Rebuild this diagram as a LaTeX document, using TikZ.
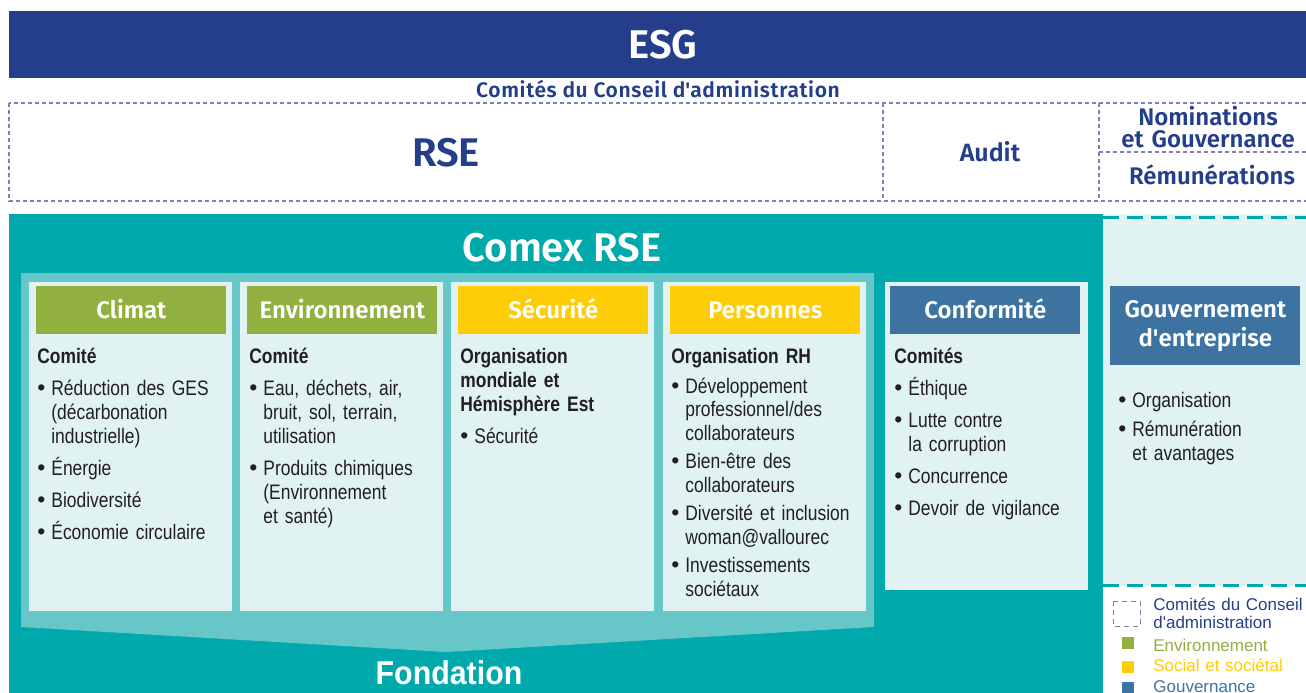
\documentclass[tikz,border=0pt]{standalone}
\usepackage{fontspec}
\setmainfont{Liberation Sans}
\newfontfamily\titre{Fira Sans}[BoldFont={Fira Sans SemiBold}]
\newfontfamily\etroit{Liberation Sans}[FakeStretch=0.83,WordSpace=0.8]
\newfontfamily\demi{Liberation Sans}[FakeStretch=0.92]

\definecolor{bleuesg}{RGB}{37,62,140}
\definecolor{lavande}{RGB}{125,127,184}
\definecolor{sarcelle}{RGB}{0,169,172}
\definecolor{sarcelleclair}{RGB}{102,198,200}
\definecolor{fondclair}{RGB}{224,242,242}
\definecolor{vertenv}{RGB}{145,176,64}
\definecolor{jaunesoc}{RGB}{255,204,8}
\definecolor{bleugouv}{RGB}{61,115,160}
\definecolor{encre}{RGB}{35,31,32}

\newcommand{\puce}{\makebox[14pt][l]{\rmfamily\fontsize{23}{0}\selectfont\textbullet}}
\newcommand{\suite}{\hspace*{14pt}}

\tikzset{every picture/.style={line width=0.75pt}}
\tikzset{
  grand/.style={font=\titre\bfseries\fontsize{40}{40}\selectfont,inner sep=0pt,anchor=base},
  comite/.style={font=\titre\bfseries\fontsize{24}{22}\selectfont,text=bleuesg,inner sep=0pt,anchor=base,align=center},
  pointille/.style={draw=lavande,line width=1.2pt,dash pattern=on 4pt off 3pt},
  tirets/.style={draw=sarcelle,line width=3pt,dash pattern=on 16pt off 8pt},
  carte/.style={fill=fondclair,inner sep=0pt,anchor=north west},
  entete/.style={text=white,font=\titre\bfseries\fontsize{24}{29}\selectfont,align=center,anchor=north west,inner sep=0pt,minimum width=190pt,minimum height=48pt},
  uneligne/.style={text height=17pt,text depth=0pt},
  corps/.style={anchor=base west,inner sep=0pt,text width=195pt,align=left,text=encre,font=\etroit\fontsize{21}{24}\selectfont},
  legende/.style={anchor=base west,inner sep=0pt,text width=200pt,align=left,font=\fontsize{17}{18}\selectfont},
  carre/.style={inner sep=0pt,minimum size=12pt,anchor=north west},
}

\begin{document}
\begin{tikzpicture}[x=1pt,y=-1pt]
\useasboundingbox (0,0) rectangle (1306,693);
\begin{scope}
\clip (0,0) rectangle (1306,693);
% ESG
\fill[bleuesg] (9,11) rectangle (1310,78);
\node[grand,text=white] (esg) at (663,59) {ESG};
\node[font=\titre\bfseries\fontsize{21}{21}\selectfont\addfontfeature{LetterSpace=3},text=bleuesg,anchor=base,inner sep=0pt] (conseil) at (658,97) {Comités du Conseil d\textquotesingle administration};
% comites (pointilles)
\draw[pointille] (9,103) rectangle (1312,201);
\draw[pointille] (883,103) -- (883,201);
\draw[pointille] (1099,103) -- (1099,201);
\draw[pointille] (1099,152) -- (1312,152);
\node[grand,text=bleuesg] (rse) at (446,166) {RSE};
\node[comite,font=\titre\bfseries\fontsize{25}{22}\selectfont] (audit) at (990,161) {Audit};
\node[comite,text width=200pt] (nominations) at (1208,125) {Nominations\\et Gouvernance};
\node[comite] (remunerations) at (1212,184) {Rémunérations};
% fonds
\fill[sarcelle] (9,214) rectangle (1103,700);
\fill[fondclair] (1103,214) rectangle (1310,585);
\draw[tirets] (1103,217) -- (1310,217);
\draw[tirets] (1103,585) -- (1310,585);
\node[grand,text=white] (comex) at (562,261) {Comex RSE};
\fill[sarcelleclair] (21,273) -- (874,273) -- (874,627) -- (446,652) -- (21,627) -- cycle; %fleche
\node[anchor=base,inner sep=0pt,text=white,font=\demi\bfseries\fontsize{33}{33}\selectfont] (fondation) at (449,684) {Fondation};
% colonnes
\foreach \nom/\x/\coul/\tete in {climat/29/vertenv/Climat,environnement/240/vertenv/Environnement,securite/451/jaunesoc/Sécurité,personnes/663/jaunesoc/Personnes}{
  \node[carte,minimum width=203pt,minimum height=329pt] (\nom) at (\x,282) {};
  \node[entete,uneligne,fill=\coul] (\nom-t) at ([xshift=7pt,yshift=-4pt]\nom.north west) {\tete};
}
\node[carte,minimum width=203pt,minimum height=308pt] (conformite) at (885,282) {};
\node[entete,uneligne,fill=bleugouv] (conformite-t) at ([xshift=5pt,yshift=-4pt]conformite.north west) {Conformité};
\node[entete,fill=bleugouv,minimum height=79pt] (gouvernement-t) at (1110,286) {Gouvernement\\d\textquotesingle entreprise};
% textes
\node[corps] (climat-c) at (37,363) {\textbf{Comité}\\[8pt]
  \puce Réduction des GES\\ \suite(décarbonation\\ \suite industrielle)\\[8pt]
  \puce Énergie\\[8pt]
  \puce Biodiversité\\[8pt]
  \puce Économie circulaire};
\node[corps] (environnement-c) at (249,363) {\textbf{Comité}\\[8pt]
  \puce Eau, déchets, air,\\ \suite bruit, sol, terrain,\\ \suite utilisation\\[8pt]
  \puce Produits chimiques\\ \suite(Environnement\\ \suite et santé)};
\node[corps] (securite-c) at (460,363) {{\bfseries Organisation\\ mondiale et\\ Hémisphère Est}\\[8pt]
  \puce Sécurité};
\node[corps,font=\etroit\fontsize{21}{23.5}\selectfont] (personnes-c) at (671,363) {\textbf{Organisation RH}\\[6.5pt]
  \puce Développement\\ \suite professionnel/des\\ \suite collaborateurs\\[5pt]
  \puce Bien-être des\\ \suite collaborateurs\\[5pt]
  \puce Diversité et inclusion\\ \suite woman@vallourec\\[5pt]
  \puce Investissements\\ \suite sociétaux};
\node[corps] (conformite-c) at (894,363) {\textbf{Comités}\\[8pt]
  \puce Éthique\\[8pt]
  \puce Lutte contre\\ \suite la corruption\\[8pt]
  \puce Concurrence\\[8pt]
  \puce Devoir de vigilance};
\node[corps,text width=185pt] (gouvernement-c) at (1118,407) {\puce Organisation\\[5pt]
  \puce Rémunération\\ \suite et avantages};
% legende
\draw[pointille,line width=1pt,dash pattern=on 5pt off 4pt] (1113,601) rectangle (1140,626);
\node[legende,text=bleuesg] (leg-conseil) at (1153,610) {Comités du Conseil\\d\textquotesingle administration};
\node[carre,fill=vertenv] (leg-env-c) at (1122,637) {};
\node[legende,text=vertenv] (leg-env) at (1153,651) {Environnement};
\node[carre,fill=jaunesoc] (leg-soc-c) at (1122,661) {};
\node[legende,text=jaunesoc] (leg-soc) at (1153,671) {Social et sociétal};
\node[carre,fill=bleugouv] (leg-gouv-c) at (1122,682) {};
\node[legende,text=bleugouv] (leg-gouv) at (1153,692) {Gouvernance};
\end{scope}
\end{tikzpicture}
\end{document}
